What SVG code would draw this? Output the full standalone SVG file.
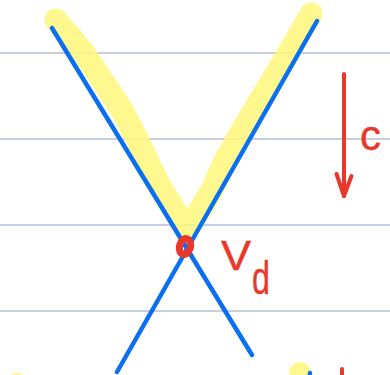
<svg xmlns="http://www.w3.org/2000/svg" width="390" height="375" viewBox="0 0 390 375">
<style>
.rule{stroke:#b3bfd6;stroke-width:1.5;fill:none}
.hl{stroke:#fff77a;stroke-opacity:0.85;fill:none;stroke-linecap:round;stroke-linejoin:round}
.pen{stroke:#0a6ff0;stroke-width:4.5;fill:none;stroke-linecap:round}
.red{stroke:#e8382b;stroke-width:4;fill:none;stroke-linecap:round;stroke-linejoin:round}
.lbl{font-family:"Liberation Sans",Arial,sans-serif;fill:#e8382b;stroke:#e8382b;stroke-width:0.4}
</style>
<rect width="390" height="375" fill="#ffffff"/>
<g id="rules">
<line class="rule" x1="0" y1="53" x2="390" y2="53"/>
<line class="rule" x1="0" y1="139" x2="390" y2="139"/>
<line class="rule" x1="0" y1="225" x2="390" y2="225"/>
<line class="rule" x1="0" y1="311" x2="390" y2="311"/>
</g>
<g id="highlight">
<path class="hl" stroke-width="23" d="M56,20 L70,36 L84,53 L106,86 L122,110 L137,139 L150,166 L162,190 L176,212 L188,228 L200,210 L212,190 L224,163 L237,139 L258,104 L288,54 L311,14"/>
<circle cx="17" cy="385" r="12" fill="#fff77a" fill-opacity="0.85"/>
<circle cx="300" cy="373" r="11" fill="#fff77a" fill-opacity="0.85"/>
</g>
<g id="connectors">
<line class="pen" x1="52" y1="28" x2="252" y2="355"/>
<line class="pen" x1="317" y1="21" x2="117" y2="372"/>
<line class="pen" x1="310" y1="373" x2="309" y2="380"/>
</g>
<g id="point">
<ellipse cx="185" cy="246.5" rx="5.5" ry="8" transform="rotate(15 185 246.5)" stroke="#e8382b" stroke-width="7" fill="none"/>
</g>
<g id="arrow-c">
<path class="red" d="M344,74 L344,196"/>
<path class="red" d="M336.5,174 L344,196 L351.5,176"/>
<text class="lbl" x="360" y="150" font-size="42">c</text>
</g>
<g id="label-vd">
<text class="lbl" x="221" y="270" font-size="43" transform="translate(221 0) scale(1.05 1) translate(-221 0)">V</text>
<text class="lbl" x="252" y="294" font-size="46" transform="translate(252 0) scale(0.7 1) translate(-252 0)">d</text>
</g>
<g id="misc">
<path class="red" d="M342,369 L342,380"/>
</g>
</svg>
